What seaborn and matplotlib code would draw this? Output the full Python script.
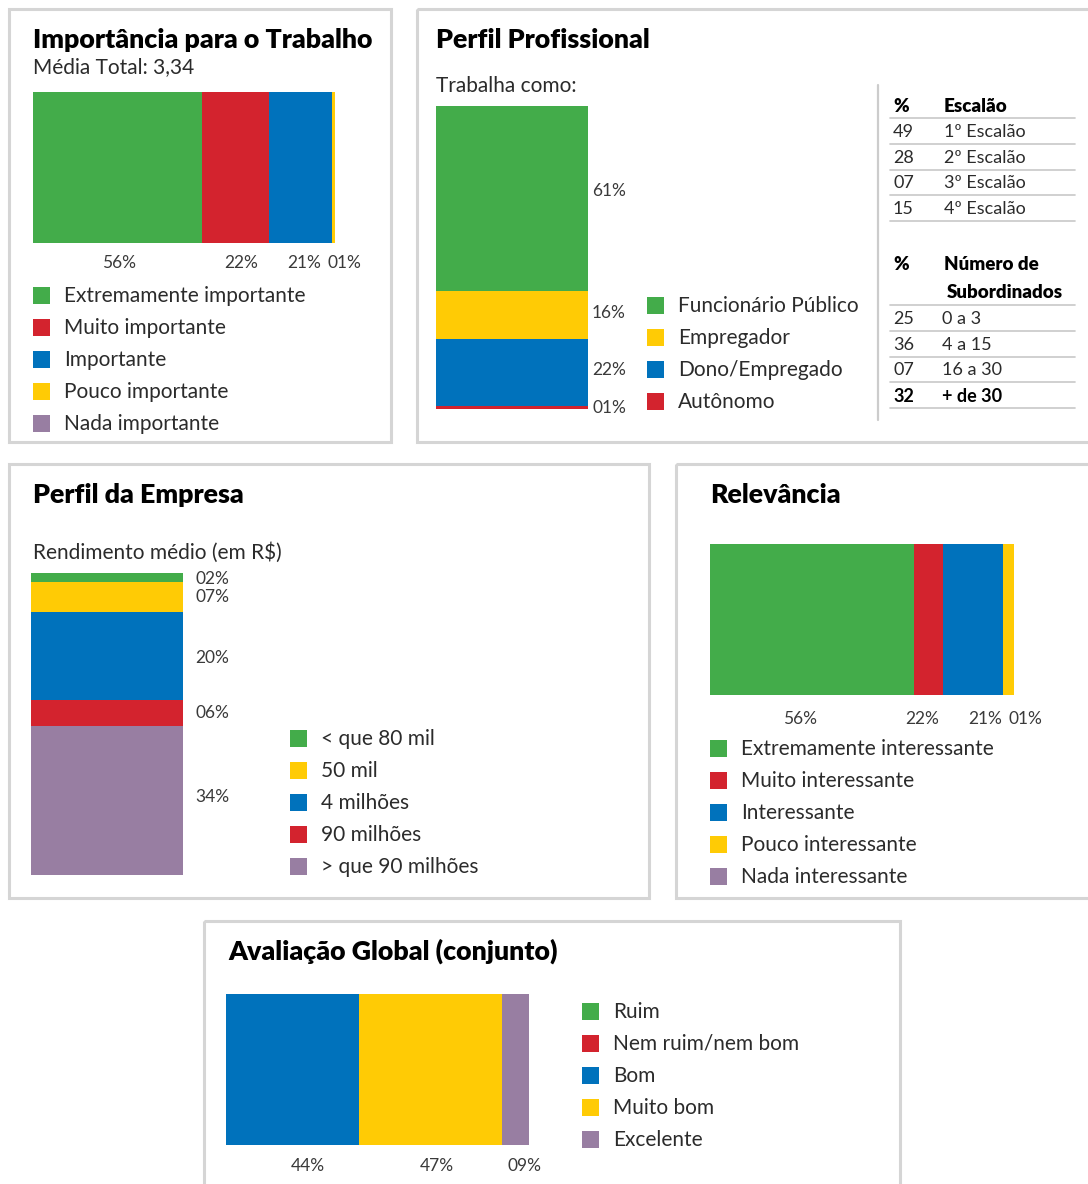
import numpy as np
import seaborn as sns
import matplotlib.pyplot as plt
from matplotlib.patches import Rectangle

sns.set_theme(style="white")
plt.rcParams["font.family"] = ["Lato", "DejaVu Sans"]

GREEN, RED, BLUE, YELLOW, PURPLE = "#43AC4A", "#D3232E", "#0072BC", "#FFCB05", "#987EA2"
TXT = "#2b2b2b"

# --- data ---
imp_labels = ["Extremamente importante", "Muito importante", "Importante",
              "Pouco importante", "Nada importante"]
imp_values = [56, 22, 21, 1, 0]
imp_colors = [GREEN, RED, BLUE, YELLOW, PURPLE]

prof_labels = ["Funcionário Público", "Empregador", "Dono/Empregado", "Autônomo"]
prof_values = [61, 16, 22, 1]
prof_colors = [GREEN, YELLOW, BLUE, RED]

escalao_pct = ["49", "28", "07", "15"]
escalao_names = ["1º Escalão", "2º Escalão", "3º Escalão", "4º Escalão"]
sub_pct = ["25", "36", "07", "32"]
sub_names = ["0 a 3", "4 a 15", "16 a 30", "+ de 30"]

emp_labels = ["< que 80 mil", "50 mil", "4 milhões", "90 milhões", "> que 90 milhões"]
emp_pct = [2, 7, 20, 6, 34]
emp_bar = [3, 10, 29, 8.5, 49.5]   # segment sizes as drawn in the original
emp_colors = [GREEN, YELLOW, BLUE, RED, PURPLE]

rel_labels = ["Extremamente interessante", "Muito interessante", "Interessante",
              "Pouco interessante", "Nada interessante"]
rel_pct = [56, 22, 21, 1, 0]
rel_bar = [67, 9.5, 20, 3.5, 0]    # segment sizes as drawn in the original
rel_colors = [GREEN, RED, BLUE, YELLOW, PURPLE]

glob_labels = ["Ruim", "Nem ruim/nem bom", "Bom", "Muito bom", "Excelente"]
glob_values = [0, 0, 44, 47, 9]
glob_colors = [GREEN, RED, BLUE, YELLOW, PURPLE]

W, H = 1088, 1184
fig = plt.figure(figsize=(W / 100, H / 100), dpi=100)
over = fig.add_axes([0, 0, 1, 1])
over.set_xlim(0, W)
over.set_ylim(H, 0)
over.axis("off")


def bar_ax(x0, y0, x1, y1):
    return fig.add_axes([x0 / W, 1 - y1 / H, (x1 - x0) / W, (y1 - y0) / H])


def stack(ax, values, colors, horizontal=True):
    cum = np.cumsum(values)
    for v, seg, c in reversed(list(zip(cum, values, colors))):
        if seg <= 0:
            continue
        if horizontal:
            sns.barplot(x=[v], y=["s"], orient="h", color=c, width=1,
                        saturation=1, linewidth=0, ax=ax)
        else:
            sns.barplot(x=["s"], y=[v], color=c, width=1,
                        saturation=1, linewidth=0, ax=ax)
    if horizontal:
        ax.set_xlim(0, 100)
        ax.set_ylim(0.5, -0.5)
    else:
        ax.set_xlim(-0.5, 0.5)
        ax.set_ylim(cum[-1], 0)
    ax.axis("off")


def h_labels(ax, pct, nudges, dy=20):
    cum = np.cumsum(pct)
    for p, c, n in zip(pct, cum - np.array(pct) / 2, nudges):
        if p <= 0:
            continue
        ax.annotate(f"{p:02d}%", xy=(c, 0), xycoords=("data", "axes fraction"),
                    xytext=(n, -dy), textcoords="offset pixels", ha="center",
                    va="center", fontsize=12.5, color="#3a3a3a", annotation_clip=False)


def v_labels(ax, pct, centers, nudges, dx=5):
    for p, c, n in zip(pct, centers, nudges):
        ax.annotate(f"{p:02d}%", xy=(1, c), xycoords=("axes fraction", "data"),
                    xytext=(dx, n), textcoords="offset pixels", ha="left",
                    va="center", fontsize=12.5, color="#3a3a3a", annotation_clip=False)


def legend(x, y, labels, colors, step=32):
    for i, (lab, c) in enumerate(zip(labels, colors)):
        yy = y + i * step
        over.add_patch(Rectangle((x, yy - 8.5), 17, 17, color=c, lw=0))
        over.text(x + 31, yy + 1, lab, fontsize=15, color=TXT, va="center",
                  ha="left")


def panel(x0, y0, x1, y1):
    over.add_patch(Rectangle((x0, y0), x1 - x0, y1 - y0, fill=False,
                             edgecolor="#d5d5d5", lw=2.2))


def title(x, y, s):
    over.text(x, y, s, fontsize=19.3, fontweight="heavy", color="black",
              va="center", ha="left")


def sub(x, y, s):
    over.text(x, y + 1, s, fontsize=15, color=TXT, va="center", ha="left")


# panel borders
panel(9, 9, 391, 442)
panel(417, 9, 1100, 442)
panel(9, 464, 649, 898)
panel(676, 464, 1100, 898)
panel(204, 921, 900, 1200)

# --- Importância para o Trabalho ---
title(33, 40, "Importância para o Trabalho")
sub(33, 66, "Média Total: 3,34")
ax1 = bar_ax(33, 92, 335, 243)
stack(ax1, imp_values, imp_colors)
h_labels(ax1, imp_values, [1, 6, 4, 11])
legend(33, 295, imp_labels, imp_colors)

# --- Perfil Profissional ---
title(436, 40, "Perfil Profissional")
sub(436, 85, "Trabalha como:")
ax2 = bar_ax(436, 106, 588, 409)
stack(ax2, prof_values, prof_colors, horizontal=False)
pc = np.cumsum(prof_values) - np.array(prof_values) / 2
v_labels(ax2, prof_values, pc, [7, 2, 3, -1], dx=4)
legend(647, 305, prof_labels, prof_colors)

over.plot([878, 878], [85, 420], color="#cccccc", lw=1.6)
tx_p, tx_n, lx0, lx1 = 893, 944, 890, 1075
over.text(tx_p, 106, "%", fontsize=13.5, fontweight="heavy", color="black", va="center")
over.text(tx_n, 106, "Escalão", fontsize=13.5, fontweight="heavy", color="black", va="center")
over.plot([lx0, lx1], [118, 118], color="#c8c8c8", lw=1.2)
for i, (p, n) in enumerate(zip(escalao_pct, escalao_names)):
    yy = 131 + i * 25.7
    over.text(tx_p, yy + 1, p, fontsize=13, color=TXT, va="center")
    over.text(tx_n, yy + 1, n, fontsize=13, color=TXT, va="center")
    over.plot([lx0, lx1], [yy + 13, yy + 13], color="#c8c8c8", lw=1.2)

over.text(tx_p, 265, "%", fontsize=13.5, fontweight="heavy", color="black", va="center")
over.text(tx_n, 265, "Número de", fontsize=13.5, fontweight="heavy", color="black", va="center")
over.text(tx_n + 3, 292, "Subordinados", fontsize=13.5, fontweight="heavy", color="black", va="center")
over.plot([lx0, lx1], [305, 305], color="#c8c8c8", lw=1.2)
for i, (p, n) in enumerate(zip(sub_pct, sub_names)):
    yy = 318 + i * 25.7
    last = i == len(sub_pct) - 1
    w = "bold" if last else "normal"
    c = "black" if last else TXT
    over.text(tx_p, yy + 1, p, fontsize=13, color=c, va="center", fontweight=w)
    over.text(tx_n - 2, yy + 1, n, fontsize=13, color=c, va="center", fontweight=w)
    over.plot([lx0, lx1], [yy + 13, yy + 13], color="#c8c8c8", lw=1.2)

# --- Perfil da Empresa ---
title(33, 495, "Perfil da Empresa")
sub(33, 552, "Rendimento médio (em R$)")
ax3 = bar_ax(31, 573, 183, 875)
stack(ax3, emp_bar, emp_colors, horizontal=False)
ec = np.cumsum(emp_bar) - np.array(emp_bar) / 2
v_labels(ax3, emp_pct, ec, [-1, 0, -2, 0, 3], dx=12)
legend(290, 738, emp_labels, emp_colors)

# --- Relevância ---
title(710, 495, "Relevância")
ax4 = bar_ax(710, 544, 1014, 695)
stack(ax4, rel_bar, rel_colors)
h_labels(ax4, rel_pct, [5, 8, 6, 13], dy=24)
legend(710, 748, rel_labels, rel_colors)

# --- Avaliação Global ---
title(228, 951, "Avaliação Global (conjunto)")
ax5 = bar_ax(226, 994, 529, 1145)
stack(ax5, glob_values, glob_colors)
h_labels(ax5, glob_values, [0, 0, 15, 6, 9], dy=21)
legend(582, 1011, glob_labels, glob_colors)

fig.savefig("out.png", dpi=100)
